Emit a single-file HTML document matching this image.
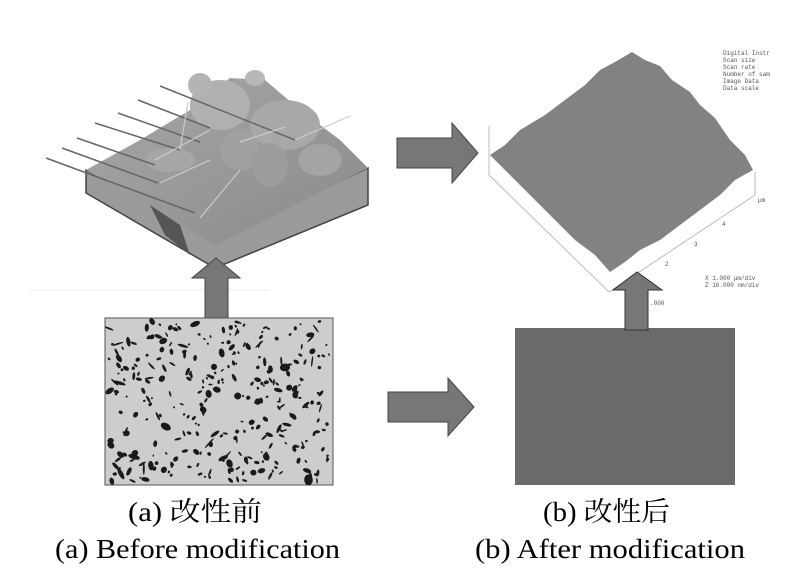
<!DOCTYPE html>
<html><head><meta charset="utf-8"><style>
html,body{margin:0;padding:0;background:#fff;width:800px;height:570px;overflow:hidden}
svg{display:block}
.t{font-family:"Liberation Serif","Noto Serif CJK SC",serif;font-size:27px;fill:#000}
.m{font-family:"Liberation Mono",monospace;font-size:6px;fill:#555}
</style></head><body>
<svg id="s" width="800" height="570" viewBox="0 0 800 570">
<defs>
<linearGradient id="g1" x1="0" y1="0" x2="1" y2="1"><stop offset="0" stop-color="#a8a8a8"/><stop offset="1" stop-color="#8a8a8a"/></linearGradient>
</defs>
<!-- left 3D block -->
<line x1="30" y1="290" x2="270" y2="290" stroke="#eee" stroke-width="1"/>
<polygon points="86,170 215,240 368,168 368,205 215,268 86,193" fill="#9a9a9a" stroke="#444" stroke-width="1.5"/>
<polygon points="86,170 140,140 190,110 230,78 265,80 300,110 340,140 368,168 215,245" fill="url(#g1)"/>
<polygon points="150,205 180,225 190,255 165,235" fill="#555"/>
<ellipse cx="220" cy="105" rx="30" ry="25" fill="#b0b0b0"/>
<ellipse cx="285" cy="125" rx="35" ry="25" fill="#a8a8a8"/>
<ellipse cx="240" cy="150" rx="20" ry="20" fill="#a0a0a0"/>
<ellipse cx="170" cy="160" rx="25" ry="12" fill="#a6a6a6"/>
<ellipse cx="270" cy="165" rx="18" ry="22" fill="#9c9c9c"/>
<ellipse cx="320" cy="160" rx="22" ry="16" fill="#a4a4a4"/>
<ellipse cx="200" cy="85" rx="12" ry="12" fill="#b4b4b4"/>
<ellipse cx="255" cy="78" rx="10" ry="8" fill="#b8b8b8"/>
<g stroke="#666" stroke-width="1.5">
<line x1="46" y1="158" x2="195" y2="213"/><line x1="62" y1="148" x2="158" y2="183"/><line x1="77" y1="138" x2="155" y2="165"/>
<line x1="95" y1="123" x2="180" y2="150"/><line x1="118" y1="113" x2="200" y2="142"/><line x1="138" y1="100" x2="210" y2="128"/>
<line x1="160" y1="86" x2="295" y2="140"/>
</g>
<g stroke="#ccc" stroke-width="1.2">
<line x1="160" y1="183" x2="210" y2="160"/><line x1="155" y1="160" x2="210" y2="130"/><line x1="180" y1="150" x2="188" y2="102"/>
<line x1="200" y1="218" x2="240" y2="170"/><line x1="240" y1="142" x2="285" y2="127"/><line x1="295" y1="140" x2="350" y2="116"/>
</g>
<!-- right arrow top -->
<polygon points="397,138 452,138 452,123 478,153 452,183 452,168 397,168" fill="#777" stroke="#444" stroke-width="1"/>
<!-- AFM -->
<g stroke="#bbb" stroke-width="1" fill="none">
<polyline points="489,126 489,175 609,292 755,195 755,172"/>
</g>
<polygon points="632,52 645,60 660,66 672,80 690,92 700,105 715,118 730,140 745,155 753,170 735,180 720,195 700,210 680,225 660,240 640,250 625,262 610,272 595,255 575,240 560,225 540,205 520,185 505,170 490,155 505,145 520,130 545,115 565,100 585,85 600,70 615,62" fill="#828282"/>
<text class="m" x="723" y="55">Digital Instr</text><text class="m" x="723" y="62">Scan size</text><text class="m" x="723" y="69">Scan rate</text>
<text class="m" x="723" y="76">Number of sam</text><text class="m" x="723" y="83">Image Data</text><text class="m" x="723" y="90">Data scale</text>
<text class="m" x="705" y="280">X 1.000 µm/div</text><text class="m" x="705" y="287">Z 10.000 nm/div</text>
<text class="m" x="665" y="266">2</text><text class="m" x="694" y="246">3</text><text class="m" x="722" y="226">4</text><text class="m" x="758" y="202">µm</text>
<text class="m" x="650" y="305">.000</text>
<!-- up arrows -->
<polygon points="205,318 205,278 192,278 216,258 240,278 228,278 228,318" fill="#777" stroke="#444" stroke-width="1"/>
<!-- bottom left micrograph -->
<rect x="105" y="318" width="228" height="167" fill="#cdcdcd" stroke="#555" stroke-width="1"/>
<g id="sp"></g>
<!-- middle arrow -->
<polygon points="388,392 448,392 448,378 474,407 448,436 448,422 388,422" fill="#777" stroke="#444" stroke-width="1"/>
<!-- bottom right -->
<rect x="515" y="328" width="220" height="157" fill="#6a6a6a"/>
<polygon points="625,330 625,290 613,290 637,272 662,290 648,290 648,330" fill="#777" stroke="#333" stroke-width="1"/>
<!-- labels -->
<text class="t" x="128" y="521" textLength="134" lengthAdjust="spacingAndGlyphs">(a) 改性前</text>
<text class="t" x="55" y="558" textLength="285" lengthAdjust="spacingAndGlyphs">(a) Before modification</text>
<text class="t" x="543" y="521" textLength="127" lengthAdjust="spacingAndGlyphs">(b) 改性后</text>
<text class="t" x="475" y="558" textLength="270" lengthAdjust="spacingAndGlyphs">(b) After modification</text>
</svg>
<script>
var g=document.getElementById('sp'),s=12345;function r(){s=(s*16807)%2147483647;return s/2147483647;}
var h='';for(var i=0;i<330;i++){var x=108+r()*222,y=321+r()*161,a=1+r()*r()*6,b=0.8+r()*r()*4;h+='<ellipse cx="'+x.toFixed(1)+'" cy="'+y.toFixed(1)+'" rx="'+a.toFixed(1)+'" ry="'+b.toFixed(1)+'" transform="rotate('+(r()*180).toFixed(0)+' '+x.toFixed(1)+' '+y.toFixed(1)+')" fill="#1a1a1a"/>';}
g.innerHTML=h;
</script>
</body></html>
